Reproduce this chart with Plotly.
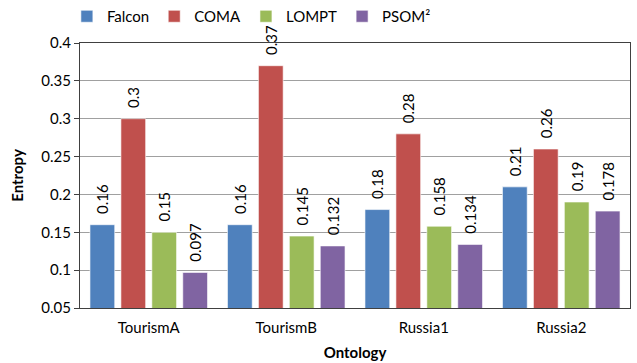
import plotly.graph_objects as go

ontologies = ["TourismA", "TourismB", "Russia1", "Russia2"]
falcon = [0.16, 0.16, 0.18, 0.21]
coma = [0.3, 0.37, 0.28, 0.26]
lompt = [0.15, 0.145, 0.158, 0.19]
psom2 = [0.097, 0.132, 0.134, 0.178]

series = [
    ("Falcon", falcon, "#4F81BD"),
    ("COMA", coma, "#C0504D"),
    ("LOMPT", lompt, "#9BBB59"),
    ("PSOM²", psom2, "#8064A2"),
]

font_family = "Lato, Liberation Sans, Arial, sans-serif"
pad = "\u00a0\u00a0"  # small gap between bar top and its rotated value label

fig = go.Figure()
for name, vals, color in series:
    fig.add_trace(go.Bar(
        x=ontologies, y=vals, name=name,
        marker=dict(color=color, line=dict(color="rgba(255,255,255,0.6)", width=1)),
        text=[pad + str(v) for v in vals],
        textposition="outside",
        textangle=-90,
        textfont=dict(family=font_family, size=15, color="black"),
        constraintext="none",
        cliponaxis=False,
    ))

fig.update_layout(
    width=637, height=363,
    margin=dict(l=80, r=7, t=43, b=55, autoexpand=False),
    paper_bgcolor="white", plot_bgcolor="white",
    barmode="group", bargap=0.1, bargroupgap=0.2,
    font=dict(family=font_family, size=15, color="black"),
    legend=dict(orientation="h", xref="container", x=0.105, xanchor="left",
                yref="container", y=1.0, yanchor="top",
                bgcolor="rgba(0,0,0,0)",
                font=dict(size=15), traceorder="normal",
                itemwidth=30, tracegroupgap=0),
    showlegend=True,
)
fig.update_xaxes(
    title=dict(text="<b>Ontology</b>", font=dict(size=15), standoff=12),
    automargin=False,
    showline=True, linecolor="#404040", mirror=True, linewidth=1,
    ticks="", tickfont=dict(size=15), ticklabelstandoff=6,
)
fig.update_yaxes(
    title=dict(text="<b>Entropy</b>", font=dict(size=15), standoff=14),
    automargin=False,
    range=[0.05, 0.4], dtick=0.05, tick0=0.05,
    showgrid=True, gridcolor="#A0A0A0", gridwidth=1,
    showline=True, linecolor="#404040", mirror=True, linewidth=1,
    ticks="outside", ticklen=5, tickcolor="#404040",
    tickfont=dict(size=15), tickformat="~g",
)

fig.write_html("out.html")
